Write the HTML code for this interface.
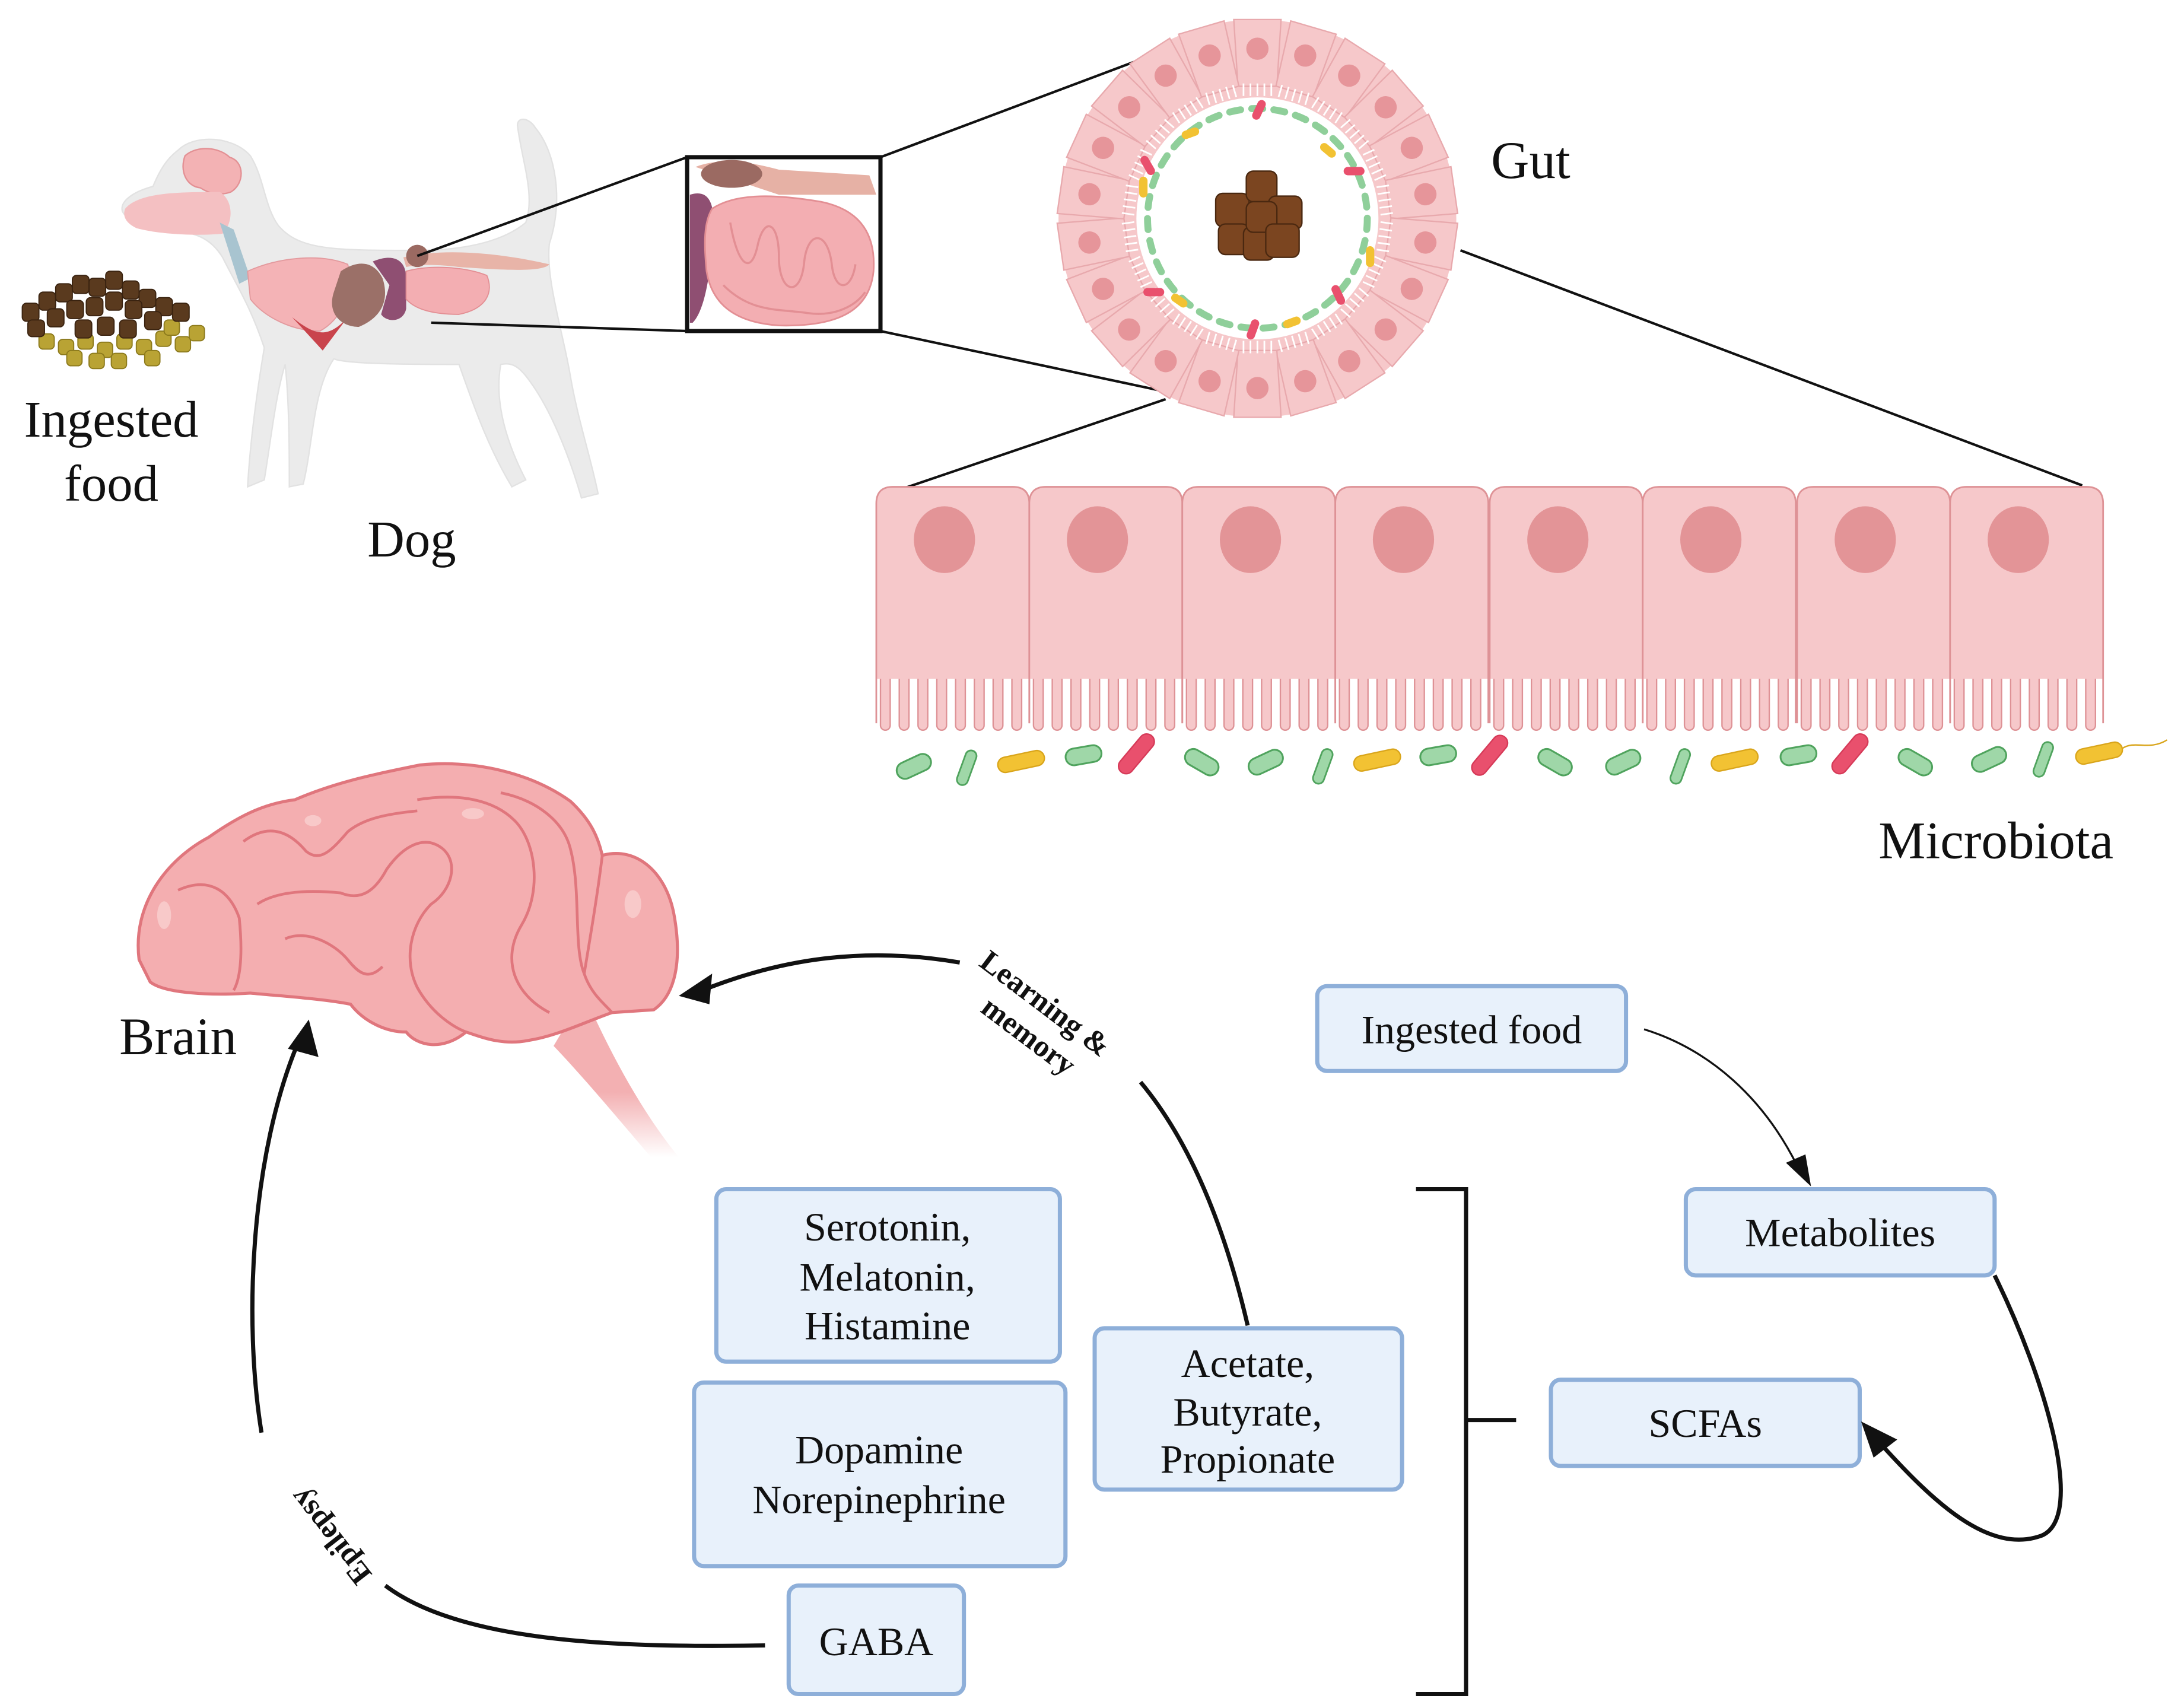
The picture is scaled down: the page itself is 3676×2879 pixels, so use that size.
<!DOCTYPE html>
<html><head><meta charset="utf-8">
<style>
html,body{margin:0;padding:0;background:#fff;}
svg{display:block;}
text{font-family:"Liberation Serif","DejaVu Serif",serif;fill:#111;}
</style></head>
<body>
<svg width="3676" height="2879" viewBox="0 0 1568 1228" xmlns="http://www.w3.org/2000/svg" font-family="Liberation Serif, DejaVu Serif, serif">
<defs>
  <g id="cell">
    <g fill="#f6c8ca" stroke="#de9296" stroke-width="1">
      <rect x="3" y="128" width="7" height="47" rx="3.5"/>
      <rect x="16.5" y="128" width="7" height="47" rx="3.5"/>
      <rect x="30" y="128" width="7" height="47" rx="3.5"/>
      <rect x="43.5" y="128" width="7" height="47" rx="3.5"/>
      <rect x="57" y="128" width="7" height="47" rx="3.5"/>
      <rect x="70.5" y="128" width="7" height="47" rx="3.5"/>
      <rect x="84" y="128" width="7" height="47" rx="3.5"/>
      <rect x="97.5" y="128" width="7" height="47" rx="3.5"/>
    </g>
    <path d="M0,138 V12 Q0,0 12,0 H98 Q110,0 110,12 V138 Z" fill="#f6c8ca"/>
    <path d="M0,170 V12 Q0,0 12,0 H98 Q110,0 110,12 V170" fill="none" stroke="#de9296" stroke-width="1.2"/>
    <ellipse cx="49" cy="38" rx="22" ry="24" fill="#e39497"/>
  </g>
  <g id="gcell">
    <path d="M-17,-143 L17,-143 L14,-95 L-14,-95 Z" fill="#f6c8ca" stroke="#e8a9ad" stroke-width="1"/>
    <circle cx="0" cy="-122" r="8" fill="#e6959a"/>
    <g stroke="#fff" stroke-width="1.2">
      <line x1="-10" y1="-97" x2="-10" y2="-88"/><line x1="-5" y1="-97" x2="-5" y2="-88"/>
      <line x1="0" y1="-97" x2="0" y2="-88"/><line x1="5" y1="-97" x2="5" y2="-88"/>
      <line x1="10" y1="-97" x2="10" y2="-88"/>
    </g>
  </g>
  <g id="bg"><rect x="-13" y="-6" width="26" height="12" rx="6" fill="#9fd7a8" stroke="#4fa35d" stroke-width="1.3"/></g>
  <g id="bgs"><rect x="-4" y="-13" width="8" height="26" rx="4" fill="#9fd7a8" stroke="#4fa35d" stroke-width="1.2"/></g>
  <g id="by"><rect x="-17" y="-5" width="34" height="11" rx="5.5" fill="#f2c233" stroke="#d9a51b" stroke-width="1"/></g>
  <g id="br"><rect x="-5.5" y="-17" width="11" height="34" rx="5.5" fill="#e9506d" stroke="#d63a58" stroke-width="1"/></g>
  <linearGradient id="stem" x1="0" y1="0" x2="0" y2="1">
    <stop offset="0.6" stop-color="#f3b0b2"/><stop offset="1" stop-color="#f3b0b2" stop-opacity="0"/>
  </linearGradient>
</defs>

<!-- ===== Food pile ===== -->
<g>
  <g fill="#b9a334" stroke="#8c7a1c" stroke-width="0.8">
    <rect x="28" y="240" width="11" height="11" rx="3"/><rect x="42" y="244" width="11" height="11" rx="3"/>
    <rect x="56" y="240" width="11" height="11" rx="3"/><rect x="70" y="246" width="11" height="11" rx="3"/>
    <rect x="84" y="240" width="11" height="11" rx="3"/><rect x="98" y="244" width="11" height="11" rx="3"/>
    <rect x="112" y="238" width="11" height="11" rx="3"/><rect x="126" y="242" width="11" height="11" rx="3"/>
    <rect x="136" y="234" width="11" height="11" rx="3"/><rect x="64" y="254" width="11" height="11" rx="3"/>
    <rect x="80" y="254" width="11" height="11" rx="3"/><rect x="48" y="252" width="11" height="11" rx="3"/>
    <rect x="104" y="252" width="11" height="11" rx="3"/><rect x="118" y="230" width="11" height="11" rx="3"/>
  </g>
  <g fill="#5a3a1e" stroke="#3a2310" stroke-width="0.8">
    <rect x="16" y="218" width="12" height="13" rx="3"/><rect x="28" y="210" width="12" height="13" rx="3"/>
    <rect x="40" y="204" width="12" height="13" rx="3"/><rect x="52" y="198" width="12" height="13" rx="3"/>
    <rect x="64" y="200" width="12" height="13" rx="3"/><rect x="76" y="195" width="12" height="13" rx="3"/>
    <rect x="88" y="202" width="12" height="13" rx="3"/><rect x="100" y="208" width="12" height="13" rx="3"/>
    <rect x="112" y="214" width="12" height="13" rx="3"/><rect x="124" y="218" width="12" height="13" rx="3"/>
    <rect x="34" y="222" width="12" height="13" rx="3"/><rect x="48" y="216" width="12" height="13" rx="3"/>
    <rect x="62" y="214" width="12" height="13" rx="3"/><rect x="76" y="210" width="12" height="13" rx="3"/>
    <rect x="90" y="216" width="12" height="13" rx="3"/><rect x="104" y="224" width="12" height="13" rx="3"/>
    <rect x="54" y="230" width="12" height="13" rx="3"/><rect x="70" y="228" width="12" height="13" rx="3"/>
    <rect x="86" y="230" width="12" height="13" rx="3"/><rect x="20" y="230" width="12" height="12" rx="3"/>
  </g>
</g>
<text x="80" y="314" font-size="37" text-anchor="middle">Ingested</text>
<text x="80" y="360" font-size="37" text-anchor="middle">food</text>

<!-- ===== Dog ===== -->
<g fill="#ebebeb" stroke="#e2e2e2" stroke-width="1">
  <path d="M128,108 C140,96 168,98 180,112 C190,128 190,148 200,162 C215,180 240,180 300,180 C330,180 360,175 378,160 C385,140 375,115 372,90 C372,84 380,84 385,92 C400,110 405,145 395,175 C392,200 405,240 410,270 C415,300 425,330 430,355 L418,358 C410,330 398,300 385,280 C375,265 370,260 360,262 C355,290 365,320 378,345 L368,350 C350,320 340,290 330,262 C300,262 250,262 240,258 C225,280 225,320 218,348 L208,350 C208,325 208,290 205,262 C198,285 195,315 190,345 L178,350 C180,315 185,280 190,250 C180,220 170,205 160,185 C152,172 142,168 128,166 C110,165 92,160 88,152 C86,145 95,138 110,134 C115,122 120,114 128,108 Z"/>
</g>
<!-- dog organs -->
<path d="M133,112 C142,104 158,106 165,113 C176,116 176,132 166,138 C158,141 150,139 144,135 C134,134 129,123 133,112 Z" fill="#f3b2b4" stroke="#e39094" stroke-width="1"/>
<path d="M90,150 C100,138 130,138 158,138 C168,144 168,160 160,168 C140,170 112,168 98,164 C90,160 88,155 90,150 Z" fill="#f4c0c2"/>
<path d="M158,160 L168,165 L180,200 L172,204 Z" fill="#a8c4d0"/>
<path d="M178,195 C200,185 230,182 250,190 C255,210 245,230 230,238 C210,238 190,228 180,215 Z" fill="#f4b3b6" stroke="#e39a9e" stroke-width="0.8"/>
<path d="M210,228 C225,240 235,245 250,228 L232,252 Z" fill="#c9444c"/>
<path d="M245,195 C260,185 270,190 275,200 C280,215 275,228 258,235 C245,235 235,225 240,210 Z" fill="#9b7068"/>
<path d="M268,188 C282,182 292,186 292,200 L292,222 C290,232 278,232 274,226 L280,205 Z" fill="#8f4f72"/>
<path d="M290,185 C320,178 360,182 395,190 C390,196 360,194 330,192 C315,190 300,190 292,192 Z" fill="#e8b4a8"/>
<path d="M292,195 C310,190 335,192 350,198 C355,210 350,222 330,226 C310,226 298,222 292,215 Z" fill="#f3aeb2" stroke="#e38f94" stroke-width="0.8"/>
<circle cx="300" cy="184" r="8" fill="#9b6a62"/>

<text x="296" y="400" font-size="37" text-anchor="middle">Dog</text>

<!-- ===== Zoom box ===== -->
<rect x="494" y="113" width="139" height="125" fill="#fff"/>
<path d="M500,120 C520,112 545,118 560,122 L625,126 L630,140 L560,140 Z" fill="#e6b1a5"/>
<ellipse cx="526" cy="125" rx="22" ry="10" fill="#9b6a62"/>
<path d="M496,140 C512,135 515,150 512,175 C510,205 505,225 498,232 L496,232 Z" fill="#8f4f72"/>
<path d="M512,150 C530,138 560,140 590,145 C615,150 630,165 628,195 C625,225 600,235 560,234 C530,232 512,220 508,195 C506,175 506,160 512,150 Z" fill="#f3aeb2" stroke="#e38f94" stroke-width="1.2"/>
<g fill="none" stroke="#e38f94" stroke-width="1.5">
  <path d="M525,160 C530,190 540,200 545,175 C550,155 560,160 560,185 C560,210 575,215 578,190 C580,165 595,165 598,190 C600,210 612,210 615,190"/>
  <path d="M520,205 C540,225 560,222 580,225 C600,228 615,220 622,210"/>
</g>
<rect x="494" y="113" width="139" height="125" fill="none" stroke="#111" stroke-width="3"/>

<!-- connector lines -->
<g stroke="#111" stroke-width="1.8" fill="none">
  <line x1="300" y1="184" x2="494" y2="113"/>
  <line x1="310" y1="232" x2="494" y2="238"/>
  <line x1="633" y1="113" x2="822" y2="42"/>
  <line x1="633" y1="238" x2="840" y2="282"/>
  <line x1="838" y1="287" x2="650" y2="351"/>
  <line x1="1050" y1="180" x2="1497" y2="349"/>
</g>

<!-- ===== Gut cross-section ===== -->
<g transform="translate(904,157)">
  <circle r="143" fill="#f6c8ca"/>
  <use href="#gcell" transform="rotate(0)"/><use href="#gcell" transform="rotate(16.36)"/>
  <use href="#gcell" transform="rotate(32.73)"/><use href="#gcell" transform="rotate(49.09)"/>
  <use href="#gcell" transform="rotate(65.45)"/><use href="#gcell" transform="rotate(81.82)"/>
  <use href="#gcell" transform="rotate(98.18)"/><use href="#gcell" transform="rotate(114.55)"/>
  <use href="#gcell" transform="rotate(130.91)"/><use href="#gcell" transform="rotate(147.27)"/>
  <use href="#gcell" transform="rotate(163.64)"/><use href="#gcell" transform="rotate(180)"/>
  <use href="#gcell" transform="rotate(196.36)"/><use href="#gcell" transform="rotate(212.73)"/>
  <use href="#gcell" transform="rotate(229.09)"/><use href="#gcell" transform="rotate(245.45)"/>
  <use href="#gcell" transform="rotate(261.82)"/><use href="#gcell" transform="rotate(278.18)"/>
  <use href="#gcell" transform="rotate(294.55)"/><use href="#gcell" transform="rotate(310.91)"/>
  <use href="#gcell" transform="rotate(327.27)"/><use href="#gcell" transform="rotate(343.64)"/>
  <circle r="87" fill="#fff"/>
  <circle r="79" fill="none" stroke="#8fcf9a" stroke-width="5" stroke-linecap="round" stroke-dasharray="8 8"/>
  <g fill="#f2c233">
    <rect x="-55" y="-64" width="13" height="6" rx="3" transform="rotate(-20 -49 -62)"/>
    <rect x="45" y="-52" width="13" height="6" rx="3" transform="rotate(40 51 -50)"/>
    <rect x="-85" y="-30" width="6" height="15" rx="3"/>
    <rect x="78" y="20" width="6" height="15" rx="3"/>
    <rect x="-62" y="56" width="13" height="6" rx="3" transform="rotate(35 -56 58)"/>
    <rect x="18" y="72" width="13" height="6" rx="3" transform="rotate(-20 24 74)"/>
  </g>
  <g fill="#e9506d">
    <rect x="-2" y="-86" width="6" height="15" rx="3" transform="rotate(25 0 -78)"/>
    <rect x="62" y="-37" width="15" height="6" rx="3"/>
    <rect x="-82" y="-45" width="6" height="15" rx="3" transform="rotate(-30 -80 -38)"/>
    <rect x="-82" y="50" width="15" height="6" rx="3"/>
    <rect x="55" y="48" width="6" height="15" rx="3" transform="rotate(-25 57 55)"/>
    <rect x="-6" y="72" width="6" height="15" rx="3" transform="rotate(20 -4 79)"/>
  </g>
  <g fill="#7b4520" stroke="#4a2810" stroke-width="1">
    <rect x="-30" y="-18" width="24" height="24" rx="5"/>
    <rect x="-8" y="-34" width="22" height="22" rx="5"/>
    <rect x="8" y="-16" width="24" height="24" rx="5"/>
    <rect x="-28" y="4" width="22" height="22" rx="5"/>
    <rect x="-10" y="6" width="22" height="24" rx="5"/>
    <rect x="-8" y="-12" width="22" height="22" rx="5"/>
    <rect x="6" y="4" width="24" height="24" rx="5"/>
  </g>
</g>
<text x="1072" y="128" font-size="38">Gut</text>

<!-- ===== Epithelium ===== -->
<use href="#cell" x="630" y="350"/><use href="#cell" x="740" y="350"/>
<use href="#cell" x="850" y="350"/><use href="#cell" x="960" y="350"/>
<use href="#cell" x="1071" y="350"/><use href="#cell" x="1181" y="350"/>
<use href="#cell" x="1292" y="350"/><use href="#cell" x="1402" y="350"/>

<!-- bacteria row -->
<use href="#bg" transform="translate(657,551) rotate(-25)"/>
<use href="#bgs" transform="translate(695,552) rotate(20)"/>
<use href="#by" transform="translate(734,547) rotate(-12)"/>
<use href="#bg" transform="translate(779,543) rotate(-10)"/>
<use href="#br" transform="translate(817,542) rotate(40)"/>
<use href="#bg" transform="translate(864,548) rotate(30)"/>
<use href="#bg" transform="translate(910,548) rotate(-25)"/>
<use href="#bgs" transform="translate(951,551) rotate(20)"/>
<use href="#by" transform="translate(990,546) rotate(-12)"/>
<use href="#bg" transform="translate(1034,543) rotate(-10)"/>
<use href="#br" transform="translate(1071,543) rotate(40)"/>
<use href="#bg" transform="translate(1118,548) rotate(30)"/>
<use href="#bg" transform="translate(1167,548) rotate(-25)"/>
<use href="#bgs" transform="translate(1208,551) rotate(20)"/>
<use href="#by" transform="translate(1247,546) rotate(-12)"/>
<use href="#bg" transform="translate(1293,543) rotate(-10)"/>
<use href="#br" transform="translate(1330,542) rotate(40)"/>
<use href="#bg" transform="translate(1377,548) rotate(30)"/>
<use href="#bg" transform="translate(1430,546) rotate(-25)"/>
<use href="#bgs" transform="translate(1469,546) rotate(20)"/>
<use href="#by" transform="translate(1509,541) rotate(-12)"/>
<path d="M1526,538 C1535,532 1545,540 1558,532" fill="none" stroke="#d9a51b" stroke-width="1"/>

<text x="1435" y="617" font-size="38" text-anchor="middle">Microbiota</text>

<!-- ===== Brain ===== -->
<path d="M420,715 C440,760 462,800 488,832 L468,832 C445,805 420,775 398,752 Z" fill="url(#stem)"/>
<path d="M100,690 C95,650 120,618 150,602 C170,588 188,578 212,575 C242,562 272,556 302,550 C342,546 382,556 410,576 C425,590 430,602 433,615 C458,608 480,628 485,660 C490,690 486,715 470,726 L440,728 C420,735 400,745 380,748 C360,752 345,745 335,742 C318,756 300,752 292,742 C278,742 262,735 252,722 C232,718 200,716 180,714 C150,716 118,714 108,706 Z" fill="#f4aeb0" stroke="#e0767d" stroke-width="2.2"/>
<g fill="none" stroke="#e0767d" stroke-width="2">
  <path d="M128,640 C150,630 165,640 172,660 C175,690 172,705 168,712"/>
  <path d="M175,605 C195,590 210,600 220,612 C230,620 238,612 250,598 C262,588 280,585 300,583"/>
  <path d="M185,650 C200,640 225,640 245,642 C260,648 270,640 278,625 C290,608 305,600 318,610 C330,620 325,640 310,650 C295,665 290,690 300,710 C310,728 325,738 335,742"/>
  <path d="M205,675 C220,668 240,678 250,690 C258,700 265,705 275,695"/>
  <path d="M300,575 C330,570 355,575 370,590 C385,605 390,640 375,665 C360,690 370,715 395,728"/>
  <path d="M360,570 C385,575 405,590 410,610 C418,640 412,680 420,700 C425,715 435,722 440,728"/>
  <path d="M433,615 C430,640 425,670 420,700"/>
</g>
<g fill="#f9cfd0" opacity="0.8">
  <ellipse cx="118" cy="658" rx="5" ry="10"/>
  <ellipse cx="225" cy="590" rx="6" ry="4"/>
  <ellipse cx="340" cy="585" rx="8" ry="4"/>
  <ellipse cx="455" cy="650" rx="6" ry="10"/>
</g>
<text x="128" y="758" font-size="38" text-anchor="middle">Brain</text>

<!-- ===== Boxes ===== -->
<g fill="#e8f1fb" stroke="#8eafd9" stroke-width="3">
  <rect x="947" y="709" width="222" height="61" rx="7"/>
  <rect x="1212" y="855" width="222" height="62" rx="7"/>
  <rect x="1115" y="992" width="222" height="62" rx="7"/>
  <rect x="515" y="855" width="247" height="124" rx="7"/>
  <rect x="499" y="994" width="267" height="132" rx="7"/>
  <rect x="567" y="1140" width="126" height="78" rx="7"/>
  <rect x="787" y="955" width="221" height="116" rx="7"/>
</g>
<g font-size="29" text-anchor="middle">
  <text x="1058" y="750">Ingested food</text>
  <text x="1323" y="896">Metabolites</text>
  <text x="1226" y="1033">SCFAs</text>
  <text x="638" y="892">Serotonin,</text>
  <text x="638" y="928">Melatonin,</text>
  <text x="638" y="963">Histamine</text>
  <text x="632" y="1052">Dopamine</text>
  <text x="632" y="1088">Norepinephrine</text>
  <text x="630" y="1190">GABA</text>
  <text x="897" y="990">Acetate,</text>
  <text x="897" y="1025">Butyrate,</text>
  <text x="897" y="1059">Propionate</text>
</g>

<!-- bracket -->
<path d="M1018,855 H1054 V1218 H1018 M1054,1021 H1090" fill="none" stroke="#111" stroke-width="3"/>

<!-- arrows -->
<g fill="none" stroke="#111">
  <path d="M897,953 C880,880 855,820 820,778" stroke-width="3"/>
  <path d="M690,692 C620,680 560,690 505,712" stroke-width="3"/>
  <path d="M550,1183 C440,1185 330,1180 277,1140" stroke-width="3"/>
  <path d="M188,1030 C175,950 180,830 215,748" stroke-width="3"/>
  <path d="M1182,740 C1230,755 1268,790 1292,838" stroke-width="1.4"/>
  <path d="M1434,917 C1470,990 1500,1090 1468,1104 C1430,1118 1390,1080 1352,1038" stroke-width="3"/>
</g>
<g fill="#111">
  <polygon points="488,716 512,700 510,722"/>
  <polygon points="222,733 229,760 207,754"/>
  <polygon points="1302,853 1284,836 1298,830"/>
  <polygon points="1338,1022 1364,1035 1347,1048"/>
</g>
<text font-size="22" font-weight="bold" transform="translate(703,694) rotate(37)">Learning &amp;</text>
<text font-size="22" font-weight="bold" transform="translate(704,727) rotate(37)">memory</text>
<text font-size="22" font-weight="bold" transform="translate(268,1132) rotate(-128)">Epilepsy</text>
</svg>
</body></html>
